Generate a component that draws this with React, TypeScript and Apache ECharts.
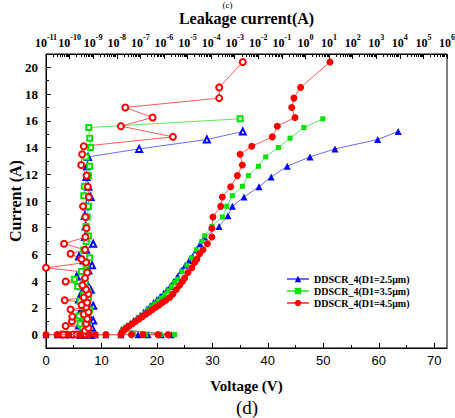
import React, { useEffect, useRef } from "react";
import * as echarts from "echarts";

const SERIF = '"Liberation Serif", "Times New Roman", serif';
const SANS = '"Liberation Sans", Arial, sans-serif';

const seriesNames = ["DDSCR_4(D1=2.5μm)", "DDSCR_4(D1=3.5μm)", "DDSCR_4(D1=4.5μm)"];

// ---------- D1 = 2.5 um (blue) ----------
const blueVoltage = [
  0, 2.0, 4.1, 6.2, 7.7, 8.9, 10.8, 13.5, 16.6, 18.4, 20.8, 22.6,
  13.6, 14.1, 14.6, 15.2, 15.8, 16.4, 17.0, 17.6, 18.2, 18.8, 19.4, 20.0, 20.6, 21.2, 21.8, 22.4, 23.0, 23.7, 24.4, 25.1, 25.8, 26.4, 27.1, 27.8, 28.6,
  31.2, 32.8, 33.6, 35.7, 38.4, 40.6, 43.5, 47.6, 52.1, 59.8, 63.5,
];
const blueCurrent = [
  0, 0, 0, 0, 0, 0, 0, 0, 0, 0, 0, 0,
  0.38, 0.52, 0.68, 0.86, 1.05, 1.25, 1.46, 1.68, 1.92, 2.16, 2.4, 2.62, 2.86, 3.1, 3.35, 3.62, 3.95, 4.35, 4.8, 5.2, 5.55, 5.85, 6.35, 6.8, 7.3,
  8.1, 8.9, 9.6, 10.3, 11.07, 11.8, 12.6, 13.3, 13.9, 14.6, 15.2,
];
const blueLeakage = [
  4.5e-10, 6.3e-10, 3.5e-10, 5.0e-10, 7.9e-10, 4.0e-10, 5.6e-10, 3.2e-10, 5.0e-10, 7.1e-10, 4.0e-10, 5.0e-10,
  5.6e-10, 8.9e-10, 2.5e-10, 5.0e-10, 1.0e-9, 3.5e-10, 6.3e-10, 2.8e-10, 4.5e-10, 1.0e-9, 4.0e-10, 2.5e-10, 5.6e-10, 3.2e-10, 7.9e-10, 3.5e-10, 5.0e-10, 2.0e-10, 6.3e-10, 8.9e-10, 4.0e-10, 2.5e-10, 5.0e-10, 1.0e-9, 4.5e-10,
  4.8e-10, 4.4e-10, 5.2e-10, 7.8e-10, 6.3e-10, 5.2e-10, 5.6e-10, 6.0e-10, 8.9e-8, 6.6e-5, 2.2e-3,
];

// ---------- D1 = 3.5 um (green) ----------
const greenVoltage = [
  0, 2.0, 4.1, 6.2, 7.7, 8.9, 10.8, 13.5, 15.8, 18.0, 20.6, 23.2,
  13.8, 14.3, 14.8, 15.4, 16.0, 16.6, 17.2, 17.8, 18.4, 19.0, 19.6, 20.2, 20.8, 21.4, 22.0, 22.6, 23.2, 23.7, 24.5, 25.4, 26.2, 27.1, 28.1, 28.6,
  29.9, 31.8, 32.6, 33.6, 35.4, 36.5, 38.3, 39.6, 41.9, 44.0, 46.5, 49.9,
];
const greenCurrent = [
  0, 0, 0, 0, 0, 0, 0, 0, 0, 0, 0, 0,
  0.35, 0.5, 0.65, 0.82, 1.0, 1.2, 1.4, 1.6, 1.85, 2.08, 2.3, 2.52, 2.75, 3.0, 3.28, 3.6, 3.9, 4.15, 4.72, 5.2, 5.75, 6.34, 6.97, 7.39,
  8.1, 8.8, 9.6, 10.4, 11.1, 11.9, 12.6, 13.3, 14.0, 14.7, 15.5, 16.15,
];
const greenLeakage = [
  4.0e-10, 5.0e-10, 3.2e-10, 5.6e-10, 3.5e-10, 4.5e-10, 6.3e-10, 3.2e-10, 5.0e-10, 4.0e-10, 5.6e-10, 4.5e-10,
  5.0e-10, 3.5e-10, 6.3e-10, 2.8e-10, 4.5e-10, 5.6e-10, 2.5e-10, 5.0e-10, 7.1e-10, 3.5e-10, 5.0e-10, 2.8e-10, 6.3e-10, 4.0e-10, 5.6e-10, 2.2e-10, 4.5e-10, 1.6e-10, 3.2e-10, 5.0e-10, 7.1e-10, 4.0e-10, 5.0e-10, 6.3e-10,
  5.0e-10, 5.6e-10, 6.3e-10, 4.0e-10, 4.2e-10, 6.3e-10, 7.1e-10, 5.0e-10, 7.8e-10, 7.1e-10, 6.5e-10, 1.7e-3,
];

// ---------- D1 = 4.5 um (red) ----------
const redVoltage = [
  0, 2.0, 4.1, 6.2, 7.7, 8.9, 10.8, 13.5, 15.4, 17.5, 20.2, 22.0,
  14.0, 14.5, 15.0, 15.6, 16.2, 16.8, 17.4, 18.0, 18.6, 19.2, 19.8, 20.4, 21.0, 21.6, 22.3, 22.9, 23.5, 24.1, 24.6, 25.0, 25.6, 26.3, 26.8, 27.2, 27.7, 28.3, 29.1, 29.9,
  29.9, 30.1, 31.5, 31.8, 33.3, 34.5, 35.4, 35.0, 37.1, 40.8, 41.7, 44.9, 44.3, 44.7, 45.9, 51.2,
];
const redCurrent = [
  0, 0, 0, 0, 0, 0, 0, 0, 0, 0, 0, 0,
  0.3, 0.5, 0.65, 0.82, 1.0, 1.18, 1.35, 1.52, 1.7, 1.88, 2.05, 2.22, 2.4, 2.57, 2.78, 3.05, 3.38, 3.7, 3.98, 4.23, 4.65, 5.0, 5.4, 5.65, 6.05, 6.35, 6.8, 7.3,
  7.96, 8.8, 9.6, 10.3, 11.07, 11.9, 12.7, 13.5, 14.1, 14.8, 15.6, 16.25, 17.0, 17.7, 18.5, 20.4,
];
const redLeakage = [
  2.5e-10, 4.5e-11, 5.0e-10, 7.9e-11, 3.5e-10, 1.4e-10, 5.6e-10, 5.6e-11, 4.0e-10, 2.0e-10, 5.0e-10, 2.8e-10,
  4.5e-10, 6.3e-10, 6.8e-11, 5.0e-10, 1.26e-10, 5.6e-10, 1.3e-10, 4.0e-10, 6.3e-10, 1.1e-10, 5.0e-10, 3.2e-10, 5.6e-10, 6.2e-11, 4.0e-10, 6.3e-10, 5.0e-10, 3.5e-10, 6.8e-11, 4.5e-10, 5.6e-10, 1.0e-11, 5.0e-10, 3.2e-10, 1.1e-10, 4.5e-10, 5.8e-11, 4.7e-10,
  5.2e-10, 4.7e-10, 3.7e-10, 6.5e-10, 5.9e-10, 5.2e-10, 3.1e-10, 3.4e-10, 4.0e-10, 2.4e-6, 1.5e-8, 3.3e-7, 2.3e-8, 2.2e-4, 2.2e-4, 2.2e-3,
];

// axis ticks
const voltageTicks = [0, 10, 20, 30, 40, 50, 60, 70];
const voltageMinorTicks = [5, 15, 25, 35, 45, 55, 65];
const currentTicks = [0, 2, 4, 6, 8, 10, 12, 14, 16, 18, 20];
const currentMinorTicks = [1, 3, 5, 7, 9, 11, 13, 15, 17, 19];
const leakageExponents = [-11, -10, -9, -8, -7, -6, -5, -4, -3, -2, -1, 0, 1, 2, 3, 4, 5, 6];
const leakageMantissas = [2, 3, 4, 5, 6, 7, 8, 9];

const BLUE = "#0000ff";
const GREEN = "#00e400";
const RED = "#ff0000";

export default function App() {
  const ref = useRef<HTMLDivElement>(null);

  useEffect(() => {
    const chart = echarts.init(ref.current!, null, { renderer: "svg" });

    const decades = leakageExponents.map((e) => Number(`1e${e}`));
    const minorLog: number[] = [];
    leakageExponents.slice(0, -1).forEach((e) => {
      leakageMantissas.forEach((m) => minorLog.push(Number(`${m}e${e}`)));
    });

    const pairs = (xs: number[], ys: number[]) => xs.map((x, i) => [x, ys[i]]);

    const ivSeries = (name: string, xs: number[], ys: number[], symbol: string, size: number, color: string, lineColor: string) => ({
      name,
      type: "line",
      xAxisIndex: 0,
      yAxisIndex: 0,
      data: pairs(xs, ys),
      symbol,
      symbolSize: size,
      itemStyle: { color },
      lineStyle: { color: lineColor, width: 1 },
      z: 3,
    });
    const leakSeries = (name: string, xs: number[], ys: number[], symbol: string, size: number, color: string, lineColor: string) => ({
      name,
      type: "line",
      xAxisIndex: 1,
      yAxisIndex: 0,
      data: pairs(xs, ys),
      symbol,
      symbolSize: size,
      itemStyle: { color, borderColor: color, borderWidth: 1.4 },
      lineStyle: { color: lineColor, width: 1 },
      z: 2,
    });

    const axisBlack = { color: "#000", width: 1 };
    const hiddenOverlay = {
      axisLine: { show: false, onZero: false },
      axisLabel: { show: false },
      splitLine: { show: false },
    };

    chart.setOption({
      animation: false,
      backgroundColor: "#fff",
      grid: {
        left: 46, right: 8, top: 54, bottom: 70,
        show: true, borderColor: "#000", borderWidth: 1,
        containLabel: false, outerBoundsMode: "none",
      },
      legend: {
        data: seriesNames,
        orient: "vertical",
        left: 281,
        top: 269,
        itemWidth: 22,
        itemHeight: 8,
        itemGap: 2,
        textStyle: { fontFamily: SERIF, fontWeight: "bold", fontSize: 10, color: "#000" },
      },
      xAxis: [
        {
          type: "value",
          position: "bottom",
          min: 0,
          max: 72.3,
          interval: 10,
          name: "Voltage (V)",
          nameLocation: "middle",
          nameGap: 30,
          nameTextStyle: { fontFamily: SERIF, fontWeight: "bold", fontSize: 15, color: "#000" },
          axisLine: { show: true, onZero: false, lineStyle: axisBlack },
          axisTick: { show: true, inside: true, length: 5, lineStyle: axisBlack, customValues: voltageTicks },
          axisLabel: { fontFamily: SANS, fontSize: 13, color: "#000", margin: 6, customValues: voltageTicks },
          splitLine: { show: false },
        },
        {
          type: "log",
          logBase: 10,
          position: "top",
          min: 1e-11,
          max: 1e6,
          name: "Leakage current(A)",
          nameLocation: "middle",
          nameGap: 28,
          nameTextStyle: { fontFamily: SERIF, fontWeight: "bold", fontSize: 16, color: "#000" },
          axisLine: { show: true, onZero: false, lineStyle: axisBlack },
          axisTick: { show: true, inside: true, length: 5, lineStyle: axisBlack, customValues: decades },
          axisLabel: {
            customValues: decades,
            margin: 5,
            formatter: (v: number) => `{b|10}{s|${Math.round(Math.log10(v))}}`,
            rich: {
              b: { fontFamily: SERIF, fontWeight: "bold", fontSize: 12, color: "#000", lineHeight: 16, verticalAlign: "bottom" },
              s: { fontFamily: SERIF, fontWeight: "bold", fontSize: 8, color: "#000", lineHeight: 16, verticalAlign: "top" },
            },
          },
          splitLine: { show: false },
        },
        {
          type: "log",
          logBase: 10,
          position: "top",
          min: 1e-11,
          max: 1e6,
          ...hiddenOverlay,
          axisTick: { show: true, inside: true, length: 3, lineStyle: axisBlack, customValues: minorLog },
        },
        {
          type: "value",
          position: "bottom",
          min: 0,
          max: 72.3,
          ...hiddenOverlay,
          axisTick: { show: true, inside: true, length: 3, lineStyle: axisBlack, customValues: voltageMinorTicks },
        },
      ],
      yAxis: [
        {
          type: "value",
          position: "left",
          min: -1,
          max: 21,
          name: "Current (A)",
          nameLocation: "middle",
          nameGap: 23,
          nameMoveOverlap: false,
          nameTextStyle: { fontFamily: SERIF, fontWeight: "bold", fontSize: 16, color: "#000" },
          axisLine: { show: true, onZero: false, lineStyle: axisBlack },
          axisTick: { show: true, inside: true, length: 5, lineStyle: axisBlack, customValues: currentTicks },
          axisLabel: { fontFamily: SERIF, fontWeight: "bold", fontSize: 13, color: "#000", margin: 8, customValues: currentTicks },
          splitLine: { show: false },
        },
        {
          type: "value",
          position: "left",
          min: -1,
          max: 21,
          ...hiddenOverlay,
          axisTick: { show: true, inside: true, length: 3, lineStyle: axisBlack, customValues: currentMinorTicks },
        },
      ],
      series: [
        ivSeries(seriesNames[0], blueVoltage, blueCurrent, "triangle", 7, BLUE, "#6b6bff"),
        ivSeries(seriesNames[1], greenVoltage, greenCurrent, "rect", 5, GREEN, "#5fe85f"),
        ivSeries(seriesNames[2], redVoltage, redCurrent, "circle", 7, RED, "#ff5a5a"),
        leakSeries("Leakage 2.5", blueLeakage, blueCurrent, "emptyTriangle", 6, BLUE, "#6b6bff"),
        leakSeries("Leakage 3.5", greenLeakage, greenCurrent, "emptyRect", 5, GREEN, "#5fe85f"),
        leakSeries("Leakage 4.5", redLeakage, redCurrent, "emptyCircle", 6, RED, "#ff5a5a"),
      ],
      graphic: [
        { type: "text", left: "center", top: 0, style: { text: "(c)", font: `9px ${SERIF}`, fill: "#000" } },
        { type: "text", left: 236, top: 398, style: { text: "(d)", font: `19px ${SERIF}`, fill: "#000" } },
      ],
    });

    return () => chart.dispose();
  }, []);

  return <div ref={ref} style={{ position: "absolute", left: 0, top: 0, width: 455, height: 418 }} />;
}
